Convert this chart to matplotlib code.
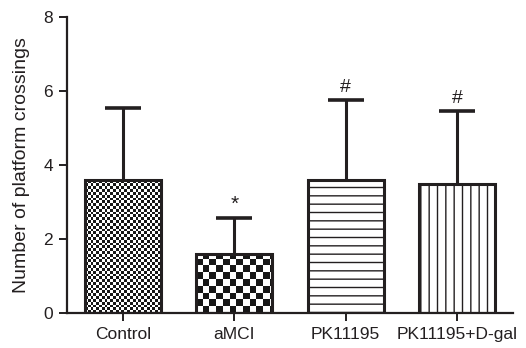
import numpy as np
import matplotlib
matplotlib.use("Agg")
import matplotlib.pyplot as plt

categories = ["Control", "aMCI", "PK11195", "PK11195+D-gal"]
means = [3.6, 1.6, 3.6, 3.5]
sds = [1.95, 0.97, 2.15, 1.95]
marks = ["", "*", "#", "#"]
y_ticks = [0, 2, 4, 6, 8]

plt.rcParams['font.family'] = ['Liberation Sans', 'DejaVu Sans']
plt.rcParams['hatch.linewidth'] = 1.0
plt.rcParams['hatch.color'] = '#222222'

W, H, DPI = 526, 348, 100
fig = plt.figure(figsize=(W / DPI, H / DPI), dpi=DPI)
ax = fig.add_axes([67 / W, 35 / H, (513 - 67) / W, (313 - 17) / H])

x = np.arange(len(categories))
ink = '#231f20'
fills = ['checker_fine', 'checker_coarse', '--', '||']
bars = ax.bar(x, means, width=0.68, color='none', edgecolor=ink, linewidth=2.2, zorder=2)
for b, f in zip(bars, fills):
    if not f.startswith('checker'):
        b.set_hatch(f)

ax.set_xlim(-0.5, 3.5)
ax.set_ylim(0, 8)

# checkerboard fills, clipped to the bars
fig.canvas.draw()
inv = ax.transData.inverted()
for b, f in zip(bars, fills):
    if not f.startswith('checker'):
        continue
    cell = 2.8 if f == 'checker_fine' else 6.7
    bb = b.get_window_extent()
    nx = int(np.ceil(bb.width / cell)) + 1
    ny = int(np.ceil(bb.height / cell)) + 1
    board = (np.add.outer(np.arange(ny), np.arange(nx)) % 2).astype(float)
    p0 = inv.transform((bb.x0, bb.y0))
    p1 = inv.transform((bb.x0 + nx * cell, bb.y0 + ny * cell))
    im = ax.imshow(board, cmap='gray_r', vmin=0, vmax=1.1, interpolation='nearest',
                   extent=(p0[0], p1[0], p0[1], p1[1]), origin='lower', aspect='auto', zorder=1.5)
    im.set_clip_path(b)
ax.set_xlim(-0.5, 3.5)
ax.set_ylim(0, 8)

eb = ax.errorbar(x, means, yerr=[np.zeros(len(sds)), sds], fmt='none', ecolor=ink,
                 elinewidth=2.2, capsize=13, capthick=2.6, zorder=1)
eb[1][0].set_visible(False)

for xi, m, s, t in zip(x, means, sds, marks):
    if t:
        ax.text(xi, m + s + 0.12, t, ha='center', va='bottom',
                fontsize=15 if t == '*' else 14, color=ink)

for side in ['top', 'right']:
    ax.spines[side].set_visible(False)
for side in ['left', 'bottom']:
    ax.spines[side].set_linewidth(1.6)
    ax.spines[side].set_color(ink)
ax.set_yticks(y_ticks)
ax.set_xticks(x)
ax.set_xticklabels(categories)
ax.tick_params(axis='both', labelsize=12.5, width=1.4, length=6, pad=4, color=ink, labelcolor=ink)
ax.set_ylabel("Number of platform crossings", fontsize=14, color=ink, labelpad=10)

fig.savefig("out.png", dpi=DPI)
